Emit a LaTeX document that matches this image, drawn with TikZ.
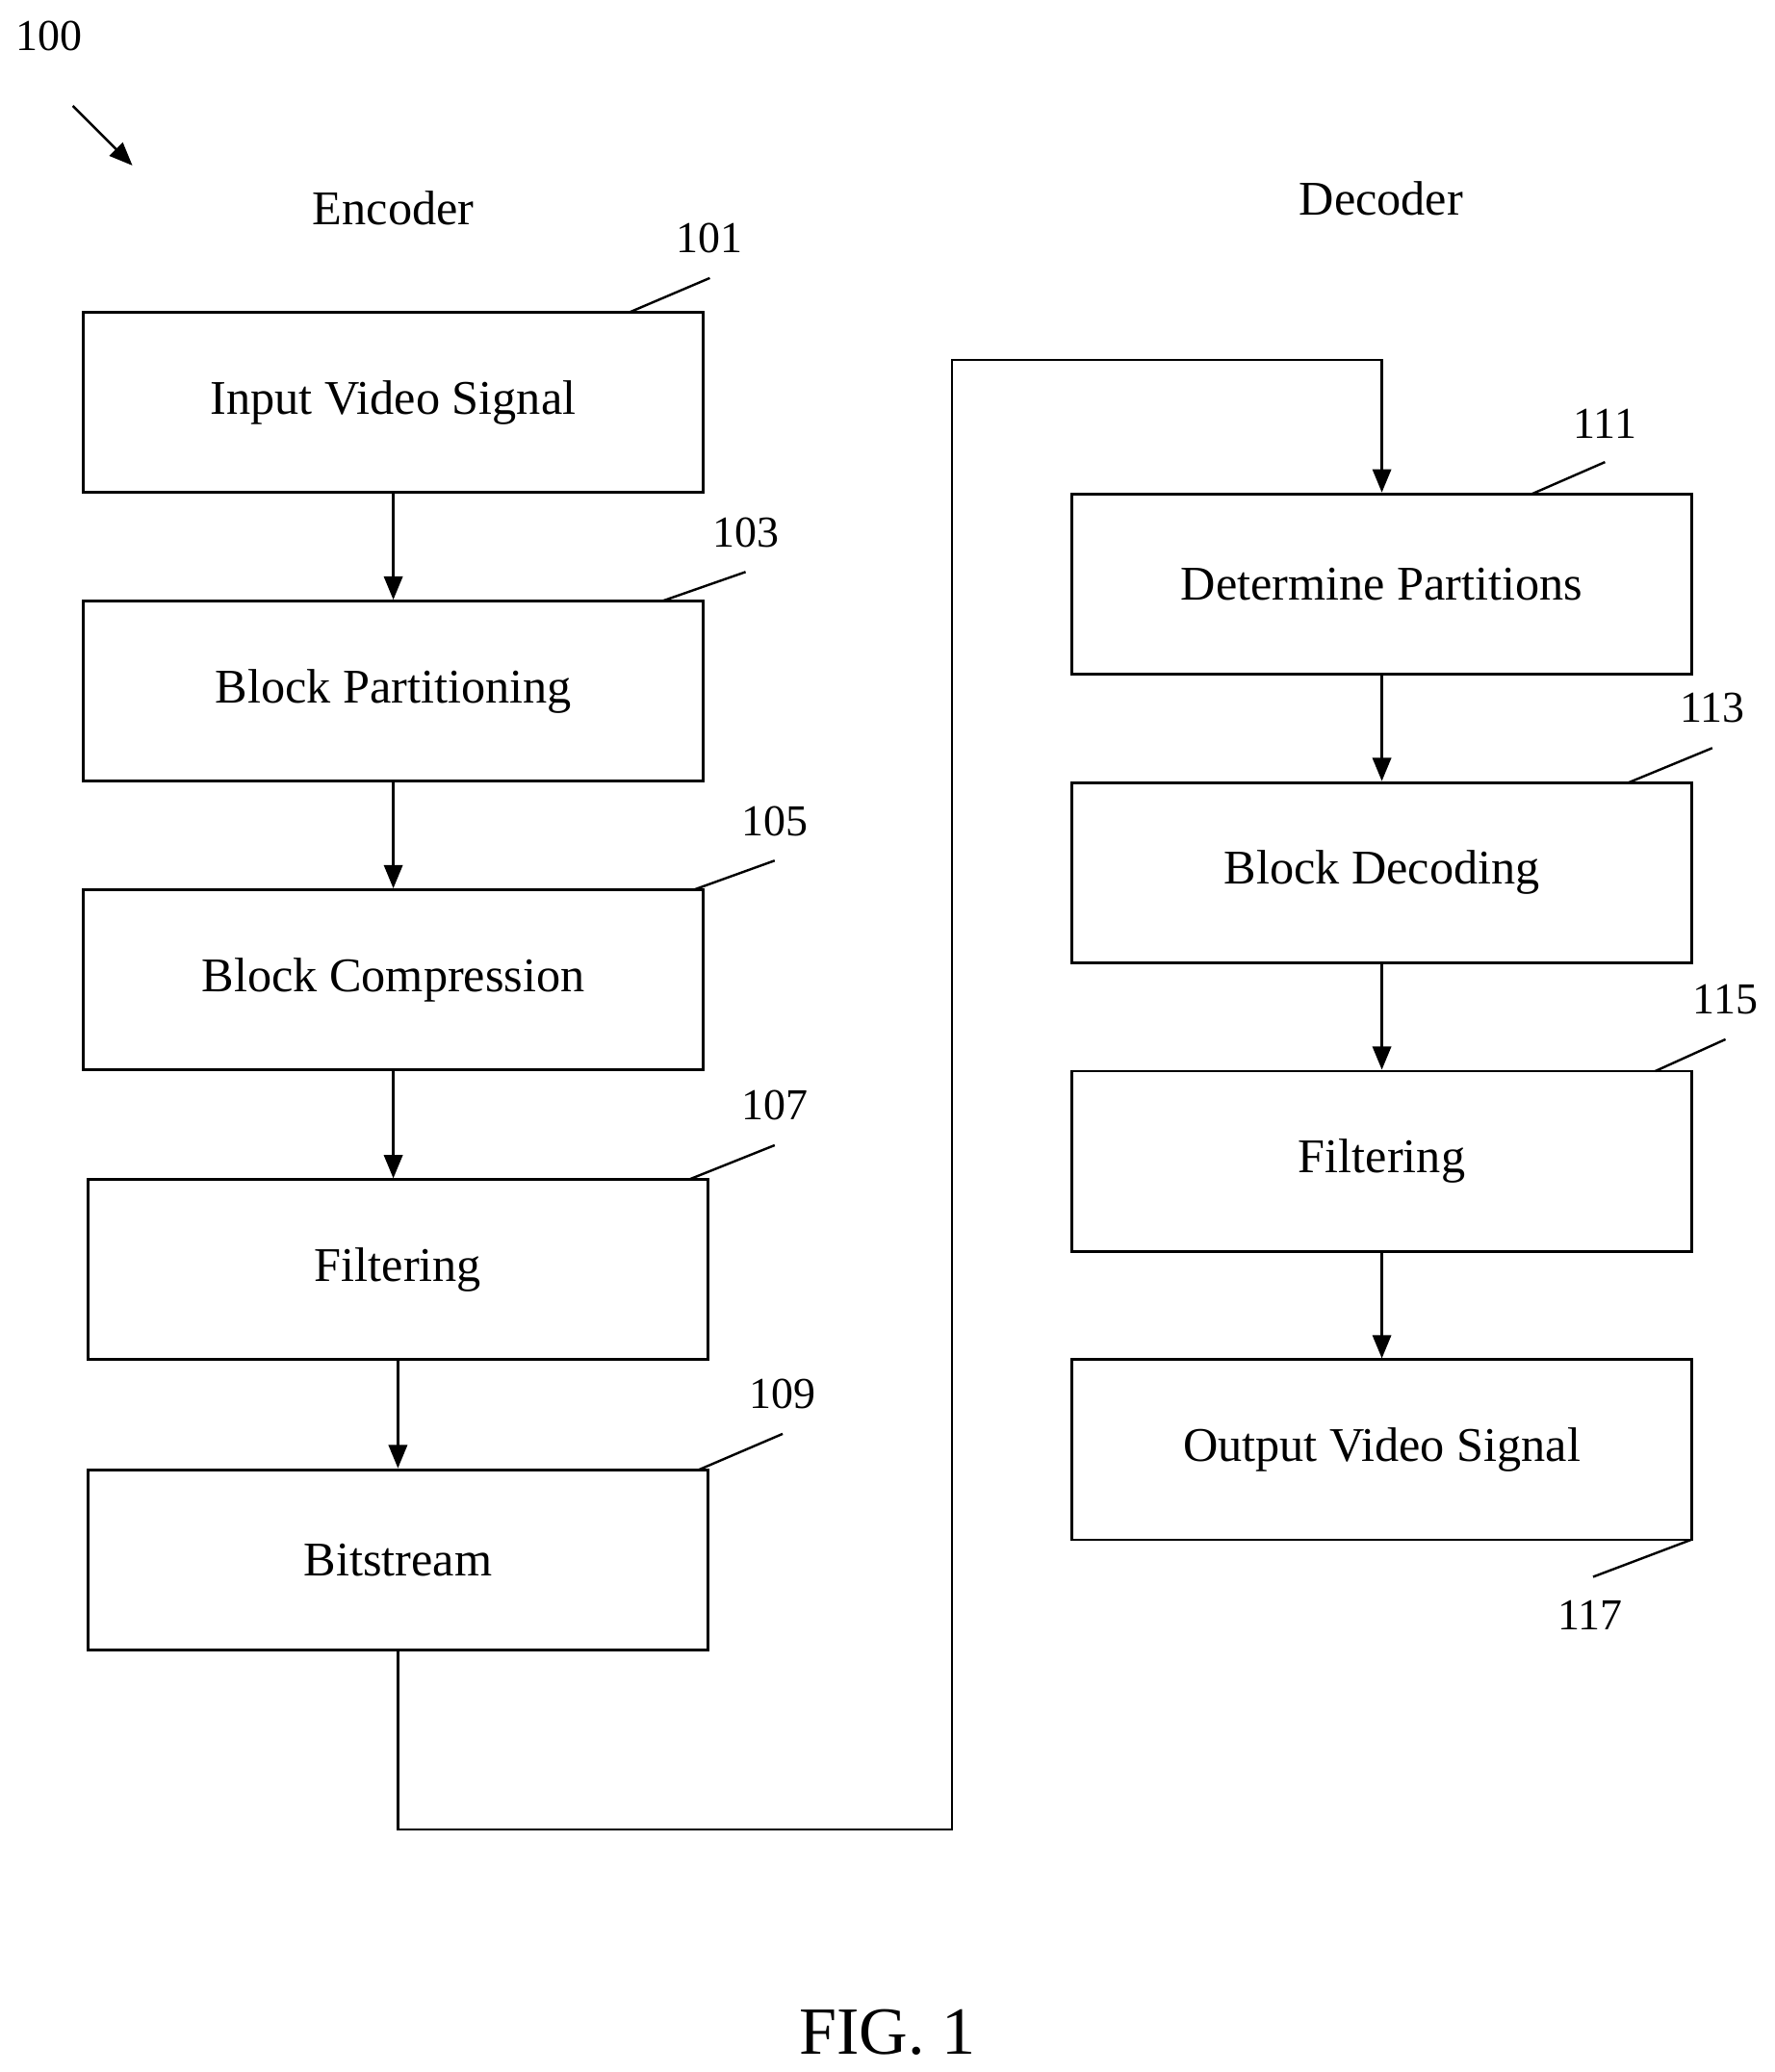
\documentclass[tikz,border=0pt]{standalone}
\usepackage{fontspec}
\setmainfont{Liberation Serif}
\usetikzlibrary{arrows.meta}
\begin{document}
\begin{tikzpicture}[x=0.02cm,y=-0.02cm,
  blk/.style={draw,line width=1.2pt,minimum width=9.36cm,minimum height=2.72cm,font=\fontsize{20.8}{24}\selectfont},
  lbl/.style={draw=none,font=\fontsize{19}{22}\selectfont},
  ttl/.style={draw=none,font=\fontsize{20.8}{24}\selectfont},
  flow/.style={line width=1pt,-{Triangle[length=10pt,width=8pt]}},
  lead/.style={line width=1pt}]
\useasboundingbox (0,0) rectangle (1340,1565);

% titles
\node [ttl] (enc) at (297,157) {Encoder};
\node [ttl] (dec) at (1043,150) {Decoder};
\node [lbl] (n100) at (37,27) {100};
\coordinate (p100a) at (55,80);
\coordinate (p100b) at (100,125);
\draw[flow] (p100a) -- (p100b);

% encoder
\node [blk] (input) at (297,304) {Input Video Signal};
\node [blk] (part) at (297,522) {Block Partitioning};
\node [blk] (comp) at (297,740) {Block Compression};
\node [blk] (efilt) at (300.5,959) {Filtering};
\node [blk] (bits) at (300.5,1178) {Bitstream};

% decoder
\node [blk] (det) at (1043.5,441) {Determine Partitions};
\node [blk] (bdec) at (1043.5,659) {Block Decoding};
\node [blk] (dfilt) at (1043.5,877) {Filtering};
\node [blk] (out) at (1043.5,1095) {Output Video Signal};

\draw[flow] (input) -- (part);
\draw[flow] (part) -- (comp);
\draw[flow] (comp.south) -- (comp.south|-efilt.north);
\draw[flow] (efilt) -- (bits);
\draw[flow] (det) -- (bdec);
\draw[flow] (bdec) -- (dfilt);
\draw[flow] (dfilt) -- (out);

\coordinate (low) at (719,1382);
\coordinate (high) at (719,272);
\draw[flow] (bits.south) |- (low) -- (high) -| (det.north);

% reference numerals
\foreach \name/\tx/\ty/\ax/\ay/\bx/\by in {
  101/536/180/475/236/536/210,
  103/563/402/500/454/563/432,
  105/585/620/524/672/585/650,
  107/585/835/520/891/585/865,
  109/591/1053/528/1110/591/1083,
  111/1212/320/1157/373/1212/349,
  113/1293/535/1230/591/1293/565,
  115/1303/755/1250/809/1303/785,
  117/1201/1220/1277/1163/1203/1191}{
  \node [lbl] (r\name) at (\tx,\ty) {\name};
  \draw[lead] (\ax,\ay) -- (\bx,\by);
}

\node [draw=none,font=\fontsize{29}{34}\selectfont] (fig) at (670,1535) {FIG. 1};
\end{tikzpicture}
\end{document}
